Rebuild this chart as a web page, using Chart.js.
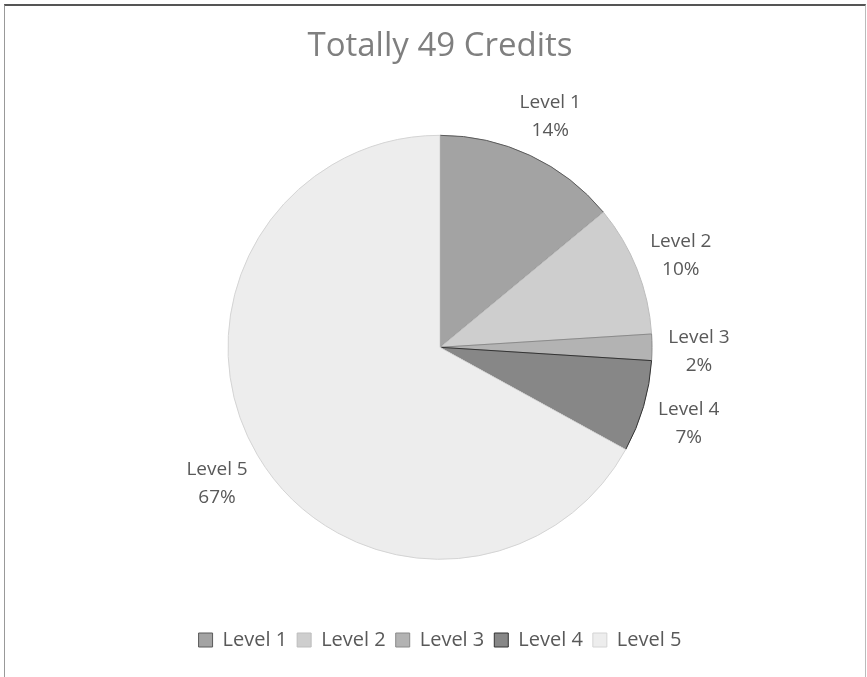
<!DOCTYPE html>
<html>
<head>
<meta charset="utf-8">
<script src="https://cdn.jsdelivr.net/npm/chart.js@4.4.1/dist/chart.umd.min.js"></script>
<style>
  html, body { margin: 0; padding: 0; background: #fff; }
  #frame {
    position: absolute; left: 4px; top: 4px; width: 860px; height: 700px;
    border-top: 2px solid #555; border-left: 1px solid #999; border-right: 1px solid #bbb;
  }
  #wrap { position: absolute; left: 0; top: 0; width: 867px; height: 677px; }
</style>
</head>
<body>
<div id="frame"></div>
<div id="wrap"><canvas id="pieChart"></canvas></div>
<script>
// chart data
const categories = ['Level 1', 'Level 2', 'Level 3', 'Level 4', 'Level 5'];
const percents = [14, 10, 2, 7, 67];
const sliceColors = ['#a3a3a3', '#cecece', '#b3b3b3', '#878787', '#ededed'];
const sliceBorders = ['#5a5a5a', '#bdbdbd', '#8a8a8a', '#333333', '#d4d4d4'];
const chartTitle = 'Totally 49 Credits';

Chart.defaults.font.family = "'Open Sans', 'Liberation Sans', sans-serif";

// draws "Level N / xx%" outside each slice
const outsideLabels = {
    id: 'outsideLabels',
    afterDatasetsDraw: function (chart) {
        const ctx = chart.ctx;
        const meta = chart.getDatasetMeta(0);
        ctx.save();
        ctx.font = "19px 'Open Sans', 'Liberation Sans', sans-serif";
        ctx.fillStyle = '#595959';
        ctx.textAlign = 'center';
        ctx.textBaseline = 'middle';
        meta.data.forEach(function (arc, i) {
            const p = arc.getProps(['x', 'y', 'startAngle', 'endAngle', 'outerRadius'], true);
            const mid = (p.startAngle + p.endAngle) / 2;
            const r = p.outerRadius + 47;
            const x = p.x + Math.cos(mid) * r;
            const y = p.y + Math.sin(mid) * r + 4;
            ctx.fillText(categories[i], x, y - 14);
            ctx.fillText(percents[i] + '%', x, y + 14);
        });
        ctx.restore();
    }
};

const ctx = document.getElementById('pieChart').getContext('2d');

new Chart(ctx, {
    type: 'pie',
    data: {
        labels: categories,
        datasets: [{
            data: percents,
            backgroundColor: sliceColors,
            borderColor: sliceBorders,
            borderWidth: 1
        }]
    },
    options: {
        responsive: true,
        maintainAspectRatio: false,
        animation: false,
        radius: 212,
        layout: {
            padding: { top: 0, bottom: 17, left: 13, right: 0 }
        },
        plugins: {
            title: {
                display: true,
                text: chartTitle,
                color: '#7f7f7f',
                font: { size: 33, weight: 'normal' },
                padding: { top: 27, bottom: 8 }
            },
            legend: {
                position: 'bottom',
                labels: {
                    color: '#595959',
                    font: { size: 20 },
                    boxWidth: 14,
                    boxHeight: 14,
                    padding: 10
                }
            },
            tooltip: { enabled: false }
        }
    },
    plugins: [outsideLabels]
});
</script>
</body>
</html>
